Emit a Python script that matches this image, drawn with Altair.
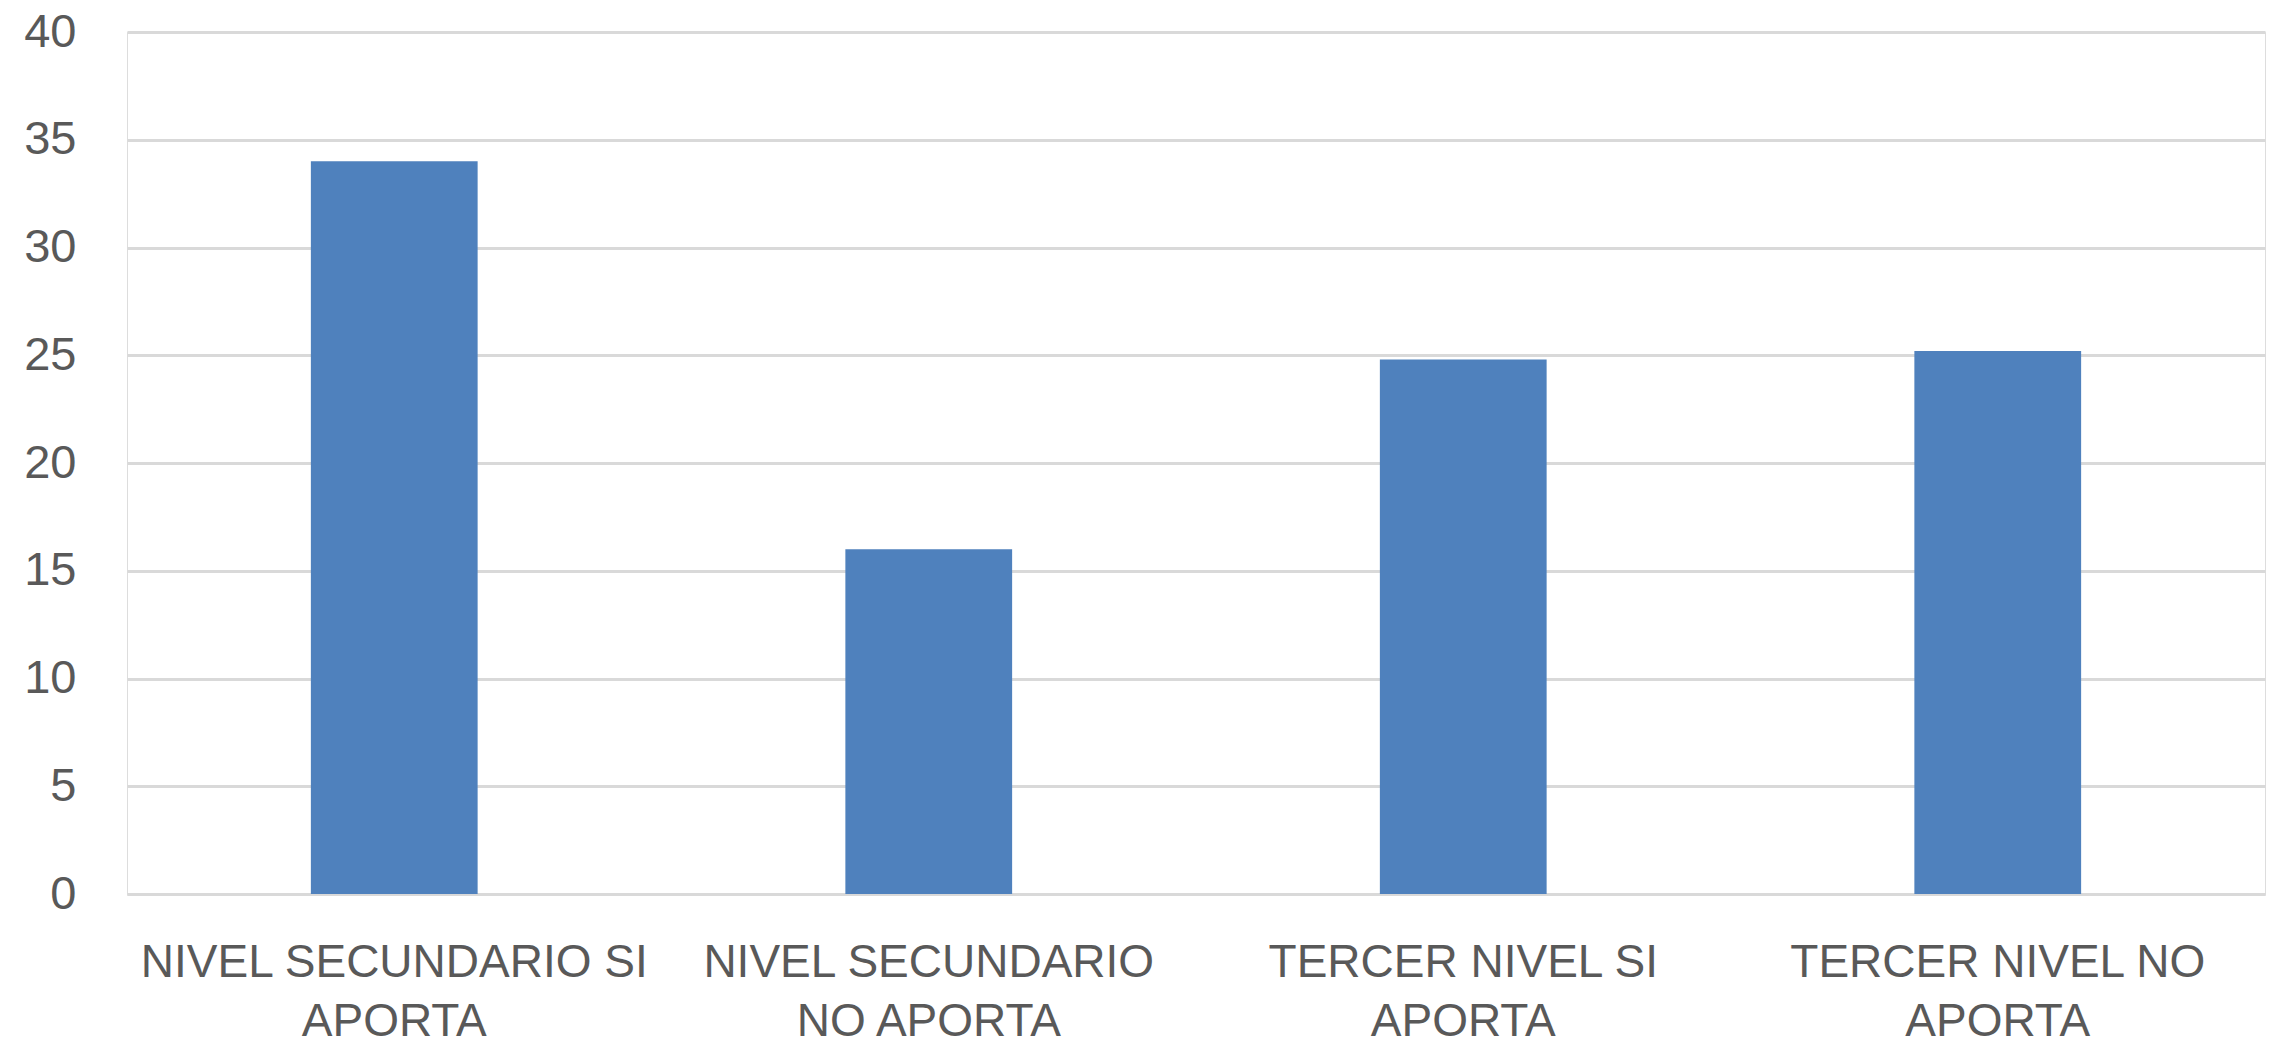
import altair as alt
import pandas as pd

categories = [
    "NIVEL SECUNDARIO SI APORTA",
    "NIVEL SECUNDARIO NO APORTA",
    "TERCER NIVEL SI APORTA",
    "TERCER NIVEL NO APORTA",
]
label_lines = [
    ["NIVEL SECUNDARIO SI", "APORTA"],
    ["NIVEL SECUNDARIO", "NO APORTA"],
    ["TERCER NIVEL SI", "APORTA"],
    ["TERCER NIVEL NO", "APORTA"],
]
values = [34, 16, 24.8, 25.2]
y_ticks = [0, 5, 10, 15, 20, 25, 30, 35, 40]

df = pd.DataFrame({"categoria": categories, "valor": values})

label_map = "{" + ", ".join(
    "'%s': [%s]" % (c, ", ".join("'%s'" % s for s in lines))
    for c, lines in zip(categories, label_lines)
) + "}"

FONT = "Liberation Sans"

chart = (
    alt.Chart(df)
    .mark_bar(color="#4F81BD")
    .encode(
        x=alt.X(
            "categoria:N",
            sort=categories,
            title=None,
            scale=alt.Scale(paddingInner=0.688, paddingOuter=0.344),
            axis=alt.Axis(
                labelAngle=0,
                domain=True,
                domainColor="#D9D9D9",
                domainWidth=3,
                ticks=False,
                labelPadding=46,
                labelFontSize=46,
                labelFont=FONT,
                labelColor="#595959",
                labelLineHeight=59,
                labelBaseline="top",
                labelLimit=0,
                labelOverlap=False,
                labelExpr=label_map + "[datum.value]",
            ),
        ),
        y=alt.Y(
            "valor:Q",
            title=None,
            scale=alt.Scale(domain=[0, 40]),
            axis=alt.Axis(
                values=y_ticks,
                domain=False,
                ticks=False,
                grid=True,
                gridColor="#D9D9D9",
                gridWidth=3,
                labelPadding=51,
                labelFontSize=47,
                labelFont=FONT,
                labelColor="#595959",
            ),
        ),
    )
    .properties(
        width=2138,
        height=862,
        autosize=alt.AutoSizeParams(type="none"),
        padding={"left": 119, "top": 24, "right": 4, "bottom": 151},
    )
    .configure_view(stroke=None)
    .configure(background="white")
)

chart.save("out.html", embed_options={"renderer": "svg", "actions": False})
